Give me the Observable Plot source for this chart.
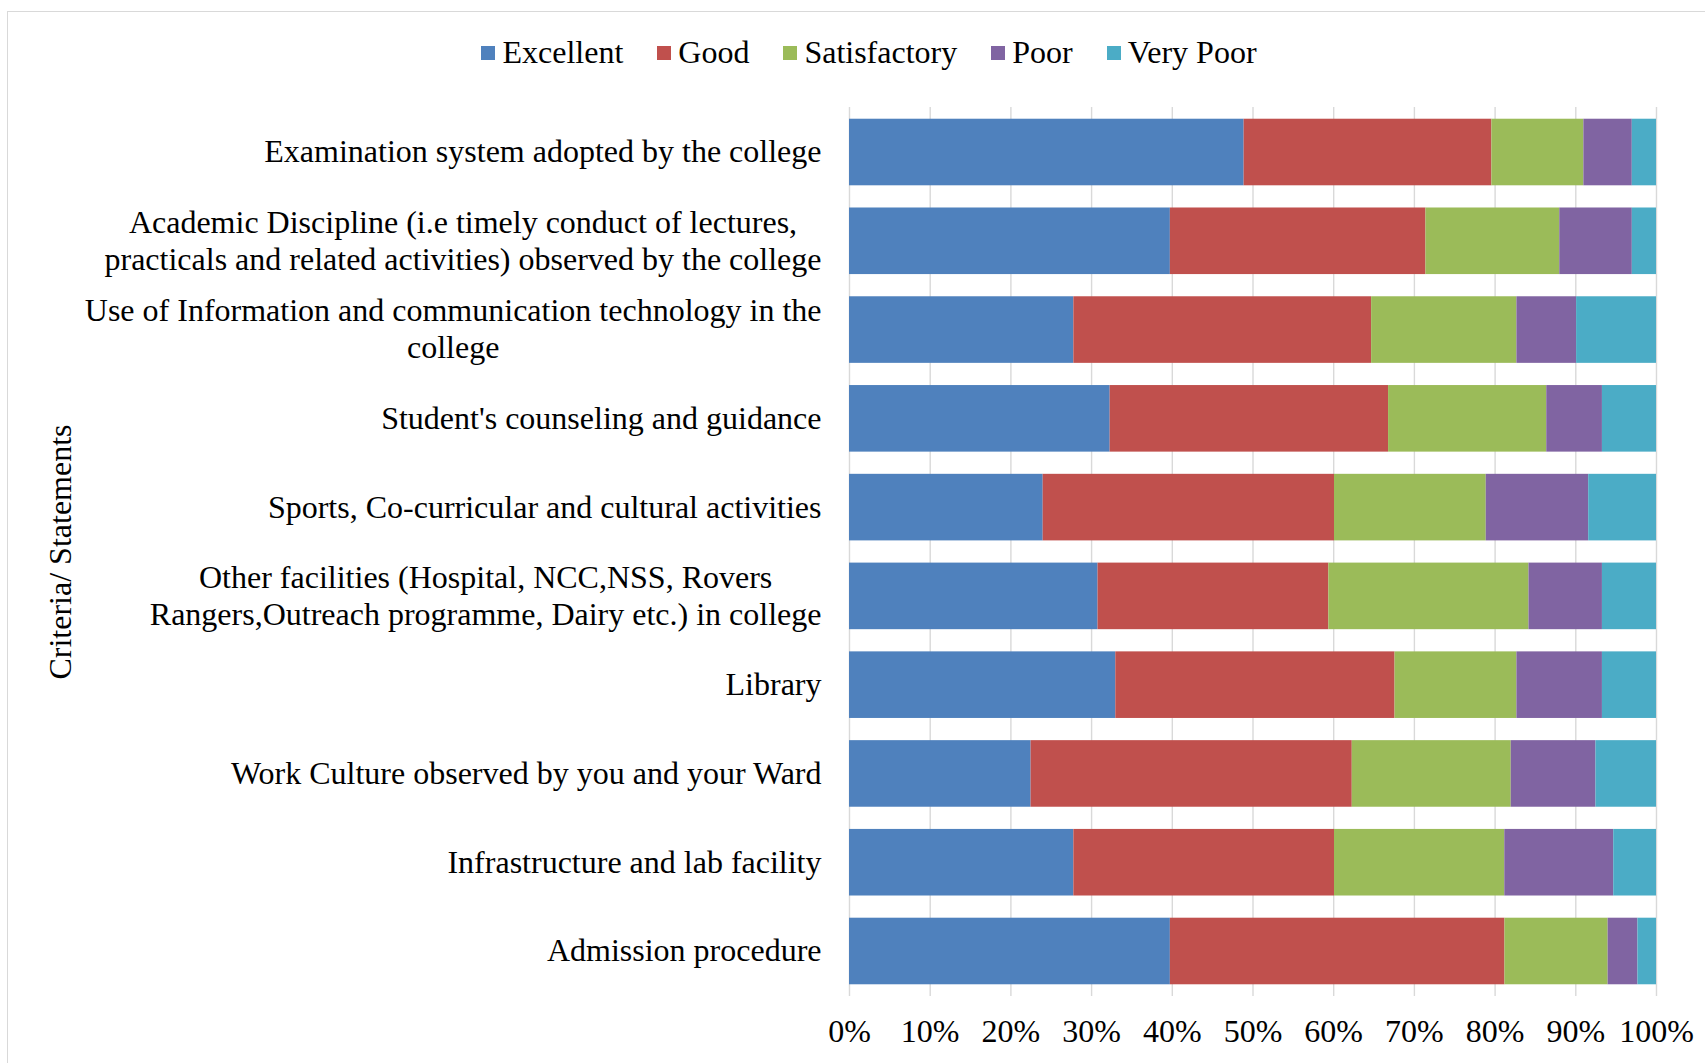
<!DOCTYPE html>
<html>
<head>
<meta charset="utf-8">
<script src="https://cdn.jsdelivr.net/npm/d3@7"></script>
<script src="https://cdn.jsdelivr.net/npm/@observablehq/plot@0.6"></script>
<style>
  html, body { margin: 0; padding: 0; background: #fff; overflow: hidden; }
  #wrap { position: relative; width: 1705px; height: 1063px; font-family: "Liberation Serif", "Times New Roman", serif; }
  #border { position: absolute; left: 7px; top: 11px; width: 1720px; height: 1080px; border: 1.5px solid #d9d9d9; box-sizing: border-box; pointer-events: none; }
  #legend { position: relative; height: 95px; display: flex; justify-content: center; align-items: center; padding-left: 33px; box-sizing: border-box; padding-top: 10px; font-size: 32px; color: #000; }
  .item { display: flex; align-items: center; margin: 0 17px; }
  .sw { width: 14px; height: 14px; margin-right: 7px; }
  svg { display: block; }
</style>
</head>
<body>
<div id="wrap">
  <div id="border"></div>
  <div id="legend"></div>
  <div id="chart"></div>
</div>
<script>
const categories = [
  "Examination system adopted by the college",
  "Academic Discipline (i.e timely conduct of lectures,\npracticals and related activities) observed by the college",
  "Use of Information and communication technology in the\ncollege",
  "Student's counseling and guidance",
  "Sports, Co-curricular and cultural activities",
  "Other facilities (Hospital, NCC,NSS, Rovers\nRangers,Outreach programme, Dairy etc.) in college",
  "Library",
  "Work Culture observed by you and your Ward",
  "Infrastructure and lab facility",
  "Admission procedure"
];
const seriesNames = ["Excellent", "Good", "Satisfactory", "Poor", "Very Poor"];
const seriesColors = ["#4F81BD", "#C0504D", "#9BBB59", "#8064A2", "#4BACC6"];
const excellent    = [48.9, 39.8, 27.8, 32.3, 24.0, 30.8, 33.0, 22.5, 27.8, 39.8];
const good         = [30.7, 31.7, 36.9, 34.5, 36.1, 28.6, 34.6, 39.8, 32.3, 41.5];
const satisfactory = [11.4, 16.6, 18.0, 19.6, 18.8, 24.8, 15.1, 19.7, 21.1, 12.8];
const poor         = [ 6.0,  9.0,  7.4,  6.9, 12.7,  9.1, 10.6, 10.5, 13.5,  3.7];
const veryPoor     = [ 3.0,  3.0,  9.9,  6.7,  8.4,  6.7,  6.7,  7.5,  5.3,  2.3];
const xTicks = [0, 0.1, 0.2, 0.3, 0.4, 0.5, 0.6, 0.7, 0.8, 0.9, 1.0];
const yTitle = "Criteria/ Statements";

const seriesValues = [excellent, good, satisfactory, poor, veryPoor];
const table = [];
categories.forEach((c, i) => {
  seriesNames.forEach((s, j) => {
    table.push({category: c, series: s, value: seriesValues[j][i]});
  });
});

// legend
const legend = document.getElementById("legend");
seriesNames.forEach((s, j) => {
  const it = document.createElement("div");
  it.className = "item";
  const sw = document.createElement("div");
  sw.className = "sw";
  sw.style.background = seriesColors[j];
  const tx = document.createElement("span");
  tx.textContent = s;
  it.appendChild(sw); it.appendChild(tx);
  legend.appendChild(it);
});

const chart = Plot.plot({
  width: 1705,
  height: 968,
  marginLeft: 849,
  marginRight: 49,
  marginTop: 12,
  marginBottom: 67,
  style: {fontFamily: '"Liberation Serif", "Times New Roman", serif', fontSize: "32px", color: "#000", background: "transparent"},
  x: {domain: [0, 1], ticks: xTicks, tickFormat: d3.format(".0%")},
  y: {domain: categories, paddingInner: 0.25, paddingOuter: 0.132, round: false, label: null},
  color: {domain: seriesNames, range: seriesColors},
  marks: [
    Plot.ruleX(xTicks, {stroke: "#d9d9d9", strokeWidth: 1.4}),
    Plot.barX(table, Plot.stackX({offset: "normalize", order: null, x: "value", y: "category", fill: "series"})),
    Plot.axisX({ticks: xTicks, tickFormat: d3.format(".0%"), tickSize: 0, tickPadding: 23, fontSize: 32, label: null}),
    Plot.axisY({tickSize: 0, tickPadding: 28, fontSize: 32, lineHeight: 1.16, dy: -2, label: null}),
    Plot.text([yTitle], {text: d => d, frameAnchor: "left", rotate: -90, textAnchor: "middle", dx: -789, fontSize: 32})
  ]
});
document.getElementById("chart").appendChild(chart);

// center multi-line y tick labels within their block (block stays right-aligned)
chart.querySelectorAll("text").forEach(t => {
  const spans = t.querySelectorAll("tspan");
  if (spans.length > 1) {
    let maxW = 0;
    spans.forEach(s => { maxW = Math.max(maxW, s.getComputedTextLength()); });
    t.setAttribute("text-anchor", "middle");
    spans.forEach(s => s.setAttribute("x", -maxW / 2));
  }
});
</script>
</body>
</html>
